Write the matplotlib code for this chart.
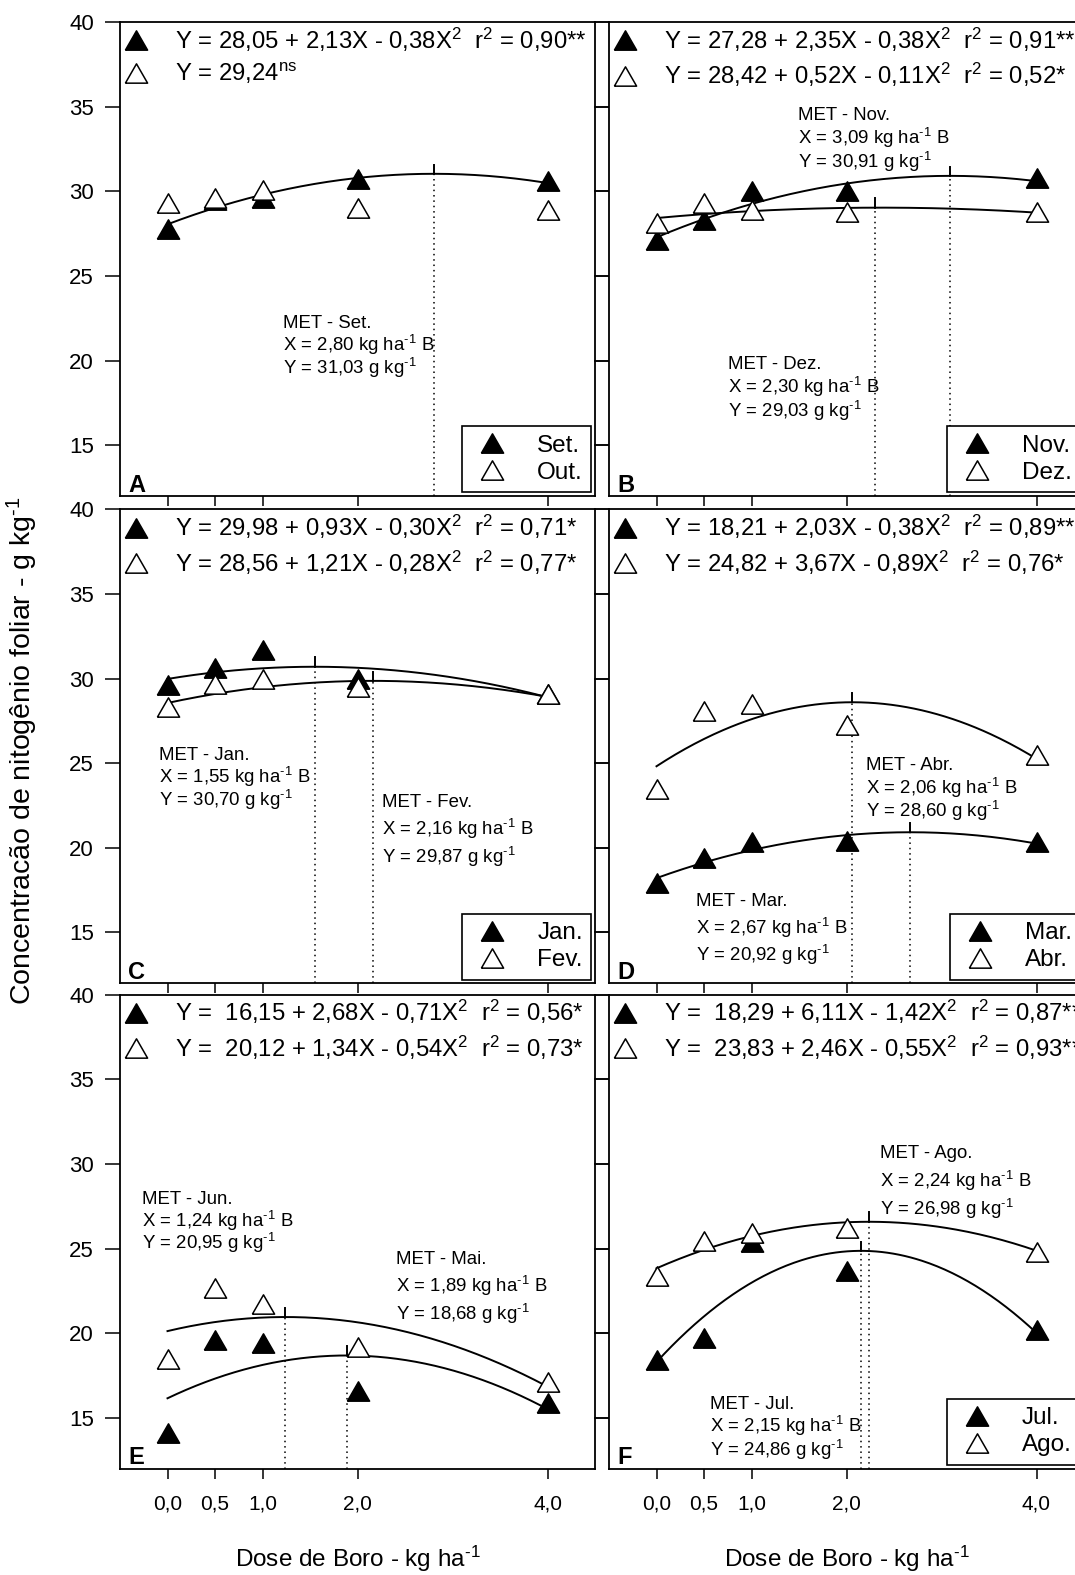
import numpy as np
import matplotlib.pyplot as plt
from matplotlib.lines import Line2D

plt.rcParams['font.family'] = ['Liberation Sans', 'DejaVu Sans']
plt.rcParams['mathtext.fontset'] = 'custom'
plt.rcParams['mathtext.rm'] = 'Liberation Sans'
plt.rcParams['mathtext.default'] = 'regular'

# doses of boron (x) and tick labels
dose = [0.0, 0.5, 1.0, 2.0, 4.0]
dose_labels = ['0,0', '0,5', '1,0', '2,0', '4,0']
y_ticks = [15, 20, 25, 30, 35, 40]

# leaf N per month
set_vals = [27.8, 29.5, 29.6, 30.7, 30.6]
out_vals = [29.3, 29.6, 30.1, 29.0, 28.9]
nov_vals = [27.1, 28.3, 30.0, 30.0, 30.8]
dez_vals = [28.1, 29.3, 28.9, 28.8, 28.8]
jan_vals = [29.6, 30.6, 31.7, 30.0, 29.1]
fev_vals = [28.3, 29.7, 29.95, 29.5, 29.1]
mar_vals = [17.9, 19.4, 20.35, 20.4, 20.35]
abr_vals = [23.5, 28.1, 28.5, 27.25, 25.5]
mai_vals = [14.1, 19.6, 19.4, 16.6, 15.9]
jun_vals = [18.5, 22.65, 21.7, 19.2, 17.1]
jul_vals = [18.4, 19.7, 25.4, 23.7, 20.2]
ago_vals = [23.4, 25.45, 25.9, 26.2, 24.8]

# regression coefficients (b0, b1, b2) printed in the panels
set_fit = [28.05, 2.13, -0.38]
nov_fit = [27.28, 2.35, -0.38]
dez_fit = [28.42, 0.52, -0.11]
jan_fit = [29.98, 0.93, -0.30]
fev_fit = [28.56, 1.21, -0.28]
mar_fit = [18.21, 2.03, -0.38]
abr_fit = [24.82, 3.67, -0.89]
mai_fit = [16.15, 2.68, -0.71]
jun_fit = [20.12, 1.34, -0.54]
jul_fit = [18.29, 6.11, -1.42]
ago_fit = [23.83, 2.46, -0.55]

eq_a = ['Y = 28,05 + 2,13X - 0,38X$^2$  r$^2$ = 0,90**', 'Y = 29,24$^{ns}$']
eq_b = ['Y = 27,28 + 2,35X - 0,38X$^2$  r$^2$ = 0,91**', 'Y = 28,42 + 0,52X - 0,11X$^2$  r$^2$ = 0,52*']
eq_c = ['Y = 29,98 + 0,93X - 0,30X$^2$  r$^2$ = 0,71*', 'Y = 28,56 + 1,21X - 0,28X$^2$  r$^2$ = 0,77*']
eq_d = ['Y = 18,21 + 2,03X - 0,38X$^2$  r$^2$ = 0,89**', 'Y = 24,82 + 3,67X - 0,89X$^2$  r$^2$ = 0,76*']
eq_e = ['Y =  16,15 + 2,68X - 0,71X$^2$  r$^2$ = 0,56*', 'Y =  20,12 + 1,34X - 0,54X$^2$  r$^2$ = 0,73*']
eq_f = ['Y =  18,29 + 6,11X - 1,42X$^2$  r$^2$ = 0,87**', 'Y =  23,83 + 2,46X - 0,55X$^2$  r$^2$ = 0,93**']

# maximum efficiency (MET): dose, height of dotted line, label text, label spot
met_a = [(2.80, 31.03, 'Set.', '2,80', '31,03', 1.22, 21.9, 1.36)]
met_b = [(3.09, 30.91, 'Nov.', '3,09', '30,91', 1.49, 34.2, 1.42),
         (2.30, 29.03, 'Dez.', '2,30', '29,03', 0.75, 19.49, 1.42)]
met_c = [(1.55, 30.70, 'Jan.', '1,55', '30,70', -0.09, 25.19, 1.36),
         (2.16, 29.87, 'Fev.', '2,16', '29,87', 2.26, 22.39, 1.63)]
met_d = [(2.06, 28.60, 'Abr.', '2,06', '28,60', 2.21, 24.58, 1.38),
         (2.67, 20.92, 'Mar.', '2,67', '20,92', 0.42, 16.55, 1.63)]
met_e = [(1.24, 20.95, 'Jun.', '1,24', '20,95', -0.27, 27.65, 1.35),
         (1.89, 18.68, 'Mai.', '1,89', '18,68', 2.40, 24.06, 1.64)]
met_f = [(2.24, 26.58, 'Ago.', '2,24', '26,98', 2.35, 30.33, 1.68),
         (2.15, 24.86, 'Jul.', '2,15', '24,86', 0.56, 15.53, 1.39)]

panels = [
    ('A', 0, 0, set_vals, out_vals, set_fit, None, eq_a, met_a, ['Set.', 'Out.']),
    ('B', 1, 0, nov_vals, dez_vals, nov_fit, dez_fit, eq_b, met_b, ['Nov.', 'Dez.']),
    ('C', 0, 1, jan_vals, fev_vals, jan_fit, fev_fit, eq_c, met_c, ['Jan.', 'Fev.']),
    ('D', 1, 1, mar_vals, abr_vals, mar_fit, abr_fit, eq_d, met_d, ['Mar.', 'Abr.']),
    ('E', 0, 2, mai_vals, jun_vals, mai_fit, jun_fit, eq_e, met_e, None),
    ('F', 1, 2, jul_vals, ago_vals, jul_fit, ago_fit, eq_f, met_f, ['Jul.', 'Ago.']),
]

W, H = 1075, 1575
col_left = [120, 609]
row_top = [22.1, 509.4, 994.7]
pw, ph = 475, 473.8

tri = [(-1.15, -1), (1.15, -1), (0, 1), (-1.15, -1)]
ms = 16
sup = '$^{\\text{-}1}$'

fig = plt.figure(figsize=(W / 100, H / 100), dpi=100)

xs = np.linspace(0, 4, 200)

for letter, col, row, fvals, ovals, ffit, ofit, eqs, mets, months in panels:
    ax = fig.add_axes([col_left[col] / W, 1 - (row_top[row] + ph) / H, pw / W, ph / H])
    ax.set_xlim(-0.5, 4.5)
    ax.set_ylim(12, 40)
    for s in ax.spines.values():
        s.set_linewidth(1.3)

    # fitted curves
    ax.plot(xs, np.polyval(ffit[::-1], xs), color='black', lw=1.4, zorder=3)
    if ofit is not None:
        ax.plot(xs, np.polyval(ofit[::-1], xs), color='black', lw=1.4, zorder=3)

    # MET markers: dotted drop line and short tick on the curve
    for mx, mtop, mname, xtxt, ytxt, tx, ty, dy in mets:
        ax.plot([mx, mx], [12, mtop], color='black', ls=(0, (1, 2.5)), lw=1.1, zorder=2)
        ax.plot([mx, mx], [mtop, mtop + 0.55], color='black', lw=1.4, zorder=3)
        lines = ['MET - ' + mname,
                 'X = ' + xtxt + ' kg ha' + sup + ' B',
                 'Y = ' + ytxt + ' g kg' + sup]
        for i, t in enumerate(lines):
            ax.text(tx, ty - i * dy, t, fontsize=13.4, ha='left', va='baseline')

    ax.plot(dose, fvals, ls='none', marker=tri, ms=ms, mfc='black', mec='black',
            mew=1.1, zorder=4, clip_on=False)
    ax.plot(dose, ovals, ls='none', marker=tri, ms=ms, mfc='white', mec='black',
            mew=1.1, zorder=5, clip_on=False)

    h_fill = Line2D([], [], ls='none', marker=tri, ms=ms, mfc='black', mec='black', mew=1.1)
    h_open = Line2D([], [], ls='none', marker=tri, ms=ms, mfc='white', mec='black', mew=1.1)

    leg_eq = ax.legend([h_fill, h_open], eqs, loc='upper left', frameon=False,
                       fontsize=17.2, handlelength=1.0, handletextpad=1.15,
                       borderaxespad=0.0, borderpad=0.15, labelspacing=0.3)
    if months is not None:
        ax.add_artist(leg_eq)
        leg = ax.legend([h_fill, h_open], months, loc='lower right', fontsize=17.5,
                        fancybox=False, framealpha=1, edgecolor='black',
                        handlelength=1.8, handletextpad=0.95, borderpad=0.35,
                        borderaxespad=0.15, labelspacing=0.2)
        leg.get_frame().set_linewidth(1.2)

    ax.text(8 / pw, 4 / ph, letter, transform=ax.transAxes, fontsize=17,
            fontweight='bold', ha='left', va='baseline')

    ax.set_xticks(dose)
    ax.set_yticks(y_ticks)
    ax.tick_params(axis='x', direction='out', length=7.5, width=1.1, labelsize=15)
    ax.tick_params(axis='y', direction='out', length=10.8, width=1.1, labelsize=16,
                   pad=8, left=True, right=True, labelleft=(col == 0))
    if row == 2:
        ax.set_xticklabels(dose_labels)
        ax.tick_params(axis='x', pad=11)
        ax.set_xlabel('Dose de Boro - kg ha' + sup, fontsize=17.5, labelpad=22)
    else:
        ax.tick_params(axis='x', labelbottom=False)

fig.text(22 / W, 1 - 751 / H, 'Concentracão de nitogênio foliar - g kg' + sup,
         rotation=90, fontsize=20.5, ha='center', va='center')

fig.savefig('out.png', dpi=100)
